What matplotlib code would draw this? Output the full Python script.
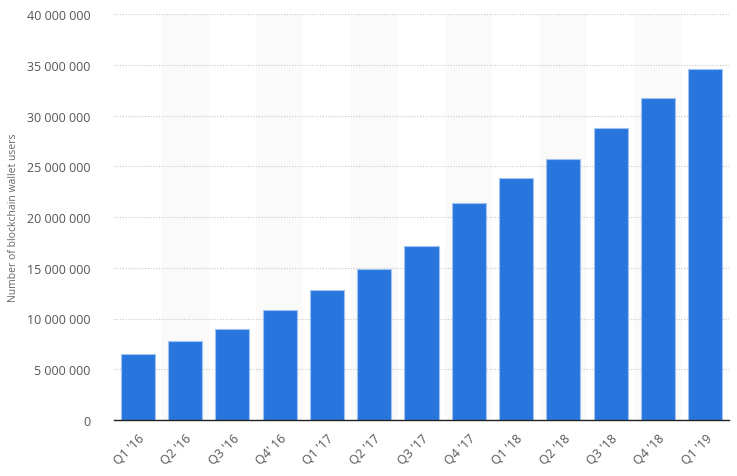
import matplotlib
matplotlib.use("Agg")
import matplotlib.pyplot as plt
from matplotlib.ticker import FuncFormatter

categories = ["Q1 '16", "Q2 '16", "Q3 '16", "Q4' 16", "Q1 '17", "Q2 '17", "Q3 '17",
              "Q4 '17", "Q1 '18", "Q2 '18", "Q3 '18", "Q4 '18", "Q1 '19"]
users = [6.53e6, 7.75e6, 8.94e6, 10.87e6, 12.81e6, 14.88e6, 17.14e6,
         21.38e6, 23.84e6, 25.68e6, 28.74e6, 31.75e6, 34.58e6]
y_ticks = [0, 5e6, 10e6, 15e6, 20e6, 25e6, 30e6, 35e6, 40e6]

plt.rcParams['font.family'] = ['Open Sans', 'DejaVu Sans']

fig = plt.figure(figsize=(7.37, 4.77), dpi=100)
ax = fig.add_axes([114/737, 1 - 421/477, (729 - 114)/737, (421 - 15)/477])

x = list(range(len(categories)))
for i in x:
    if i % 2 == 1:
        ax.axvspan(i - 0.5, i + 0.5, color='#fafafa', zorder=0, lw=0)

ax.bar(x, users, width=0.72, color='#2876dd', edgecolor='#9fc2ee', linewidth=0.8, zorder=3)

ax.set_xlim(-0.5, len(categories) - 0.5)
ax.set_ylim(0, 40e6)
ax.set_yticks(y_ticks)
ax.yaxis.set_major_formatter(FuncFormatter(lambda v, p: f"{int(v):,}".replace(",", " ")))
ax.grid(axis='y', linestyle=(0, (1, 1.5)), color='#c8c8c8', linewidth=0.8, zorder=1)
ax.set_axisbelow(True)

ax.set_xticks(x)
ax.set_xticklabels(categories, rotation=45, ha='right', va='top', rotation_mode='anchor')
ax.tick_params(axis='x', length=0, pad=8, labelsize=9, labelcolor='#555555')
ax.tick_params(axis='y', length=0, pad=17, labelsize=9, labelcolor='#555555')

for s in ['top', 'right', 'left']:
    ax.spines[s].set_visible(False)
ax.spines['bottom'].set_color('#222222')
ax.spines['bottom'].set_linewidth(1.0)
ax.spines['bottom'].set_zorder(4)

ax.set_ylabel("Number of blockchain wallet users", fontsize=7.5, color='#666666')
ax.yaxis.set_label_coords((19 - 114) / 615, 0.5)

fig.savefig("out.png", dpi=100)
